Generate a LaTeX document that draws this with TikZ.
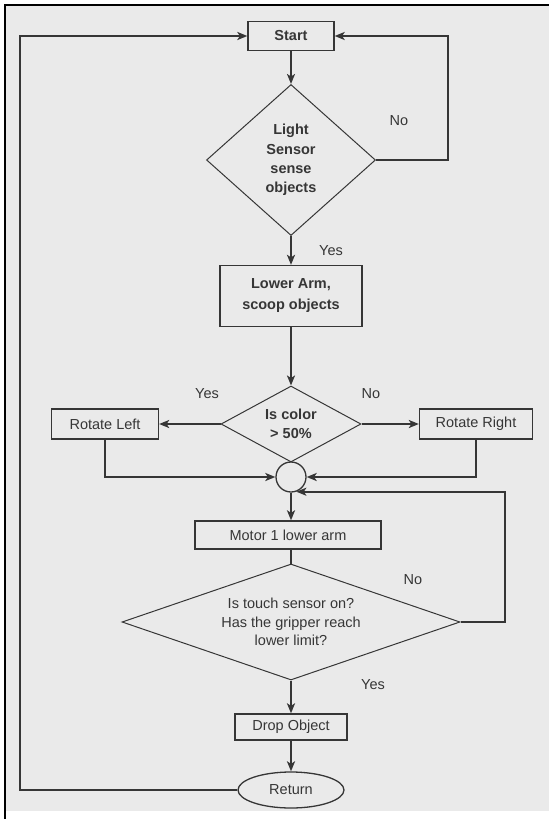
\documentclass[tikz,border=0pt]{standalone}
\usepackage{fontspec}
\setmainfont{Liberation Sans}
\usetikzlibrary{shapes.geometric,arrows.meta}
\definecolor{page}{HTML}{EAEAEA}
\definecolor{ink}{HTML}{363636}
\tikzset{
	txt/.style={text=ink,font=\fontsize{14.5}{19}\selectfont},
	box/.style={txt,draw=ink,line width=1.3pt,minimum height=29pt,inner sep=2pt,align=center},
	bbox/.style={box,font=\fontsize{14.5}{21}\selectfont\bfseries},
	test/.style={txt,diamond,draw=ink,line width=1pt,inner sep=0pt,align=center},
	flow/.style={draw=ink,line width=2.4pt,-{Stealth[length=10pt,width=8pt,inset=2.5pt]}},
	stub/.style={draw=ink,line width=2.4pt}
}
\begin{document}
\begin{tikzpicture}[x=1pt,y=-1pt]
	\useasboundingbox (0,0) rectangle (549,819);
	\fill[page] (6,6) rectangle (549,811);
	\draw[line width=2pt] (5,819) -- (5,5) -- (549,5);

	\node[bbox,minimum width=86pt] (start) at (291,36) {Start};
	\node[test,aspect=1.12,font=\fontsize{14.5}{19.3}\selectfont\bfseries,minimum width=169pt,minimum height=151pt] (sense) at (291,160) {Light\\Sensor\\sense\\objects};
	\node[bbox,minimum width=142pt,minimum height=61pt] (scoop) at (291,296) {Lower Arm,\\scoop objects};
	\node[test,aspect=1.84,font=\fontsize{14.5}{19}\selectfont\bfseries,minimum width=140pt,minimum height=76pt] (color) at (291,424) {Is color\\> 50\%};
	\node[box,minimum width=107pt,minimum height=30pt] (left) at (105,424) {Rotate Left};
	\node[box,minimum width=113pt,minimum height=30pt] (right) at (476,424) {Rotate Right};
	\node[circle,draw=ink,line width=1.3pt,minimum size=30pt,inner sep=0pt] (join) at (291,477) {};
	\node[box,minimum width=186pt,minimum height=28pt] (motor) at (288,535) {Motor 1 lower arm};
	\node[test,aspect=2.9,font=\fontsize{14.5}{18.5}\selectfont,minimum width=338pt,minimum height=116pt] (touch) at (291,622) {Is touch sensor on?\\Has the gripper reach\\lower limit?};
	\node[box,minimum width=112pt,minimum height=26pt] (drop) at (291,727) {Drop Object};
	\node[txt,ellipse,draw=ink,line width=1.3pt,minimum width=106pt,minimum height=36pt,inner sep=0pt] (ret) at (291,790) {Return};

	\node[txt] (no1) at (399,121) {No};
	\node[txt] (yes1) at (331,251) {Yes};
	\node[txt] (yes2) at (207,394) {Yes};
	\node[txt] (no2) at (371,394) {No};
	\node[txt] (no3) at (413,580) {No};
	\node[txt] (yes3) at (373,685) {Yes};

	\coordinate (r1) at (448,36);
	\coordinate (r2) at (505,492);
	\coordinate (l1) at (20,36);

	\draw[flow] (start) -- (sense);
	\draw[flow] (sense.east) -| (r1) -- (start.east);
	\draw[flow] (sense) -- (scoop);
	\draw[flow] (scoop) -- (color);
	\draw[flow] (color.west) -- (left.east);
	\draw[flow] (color.east) -- (right.west);
	\draw[flow] (left.south) |- (join.west);
	\draw[flow] (right.south) |- (join.east);
	\draw[flow] (join) -- (join |- motor.north);
	\draw[stub] (motor.south -| touch.north) -- (touch.north);
	\draw[flow] (touch.east) -| (r2) |- (join.-70);
	\draw[flow] (touch) -- (drop);
	\draw[flow] (drop) -- (ret);
	\draw[flow] (ret.west) -| (l1) -- (start.west);
\end{tikzpicture}
\end{document}
